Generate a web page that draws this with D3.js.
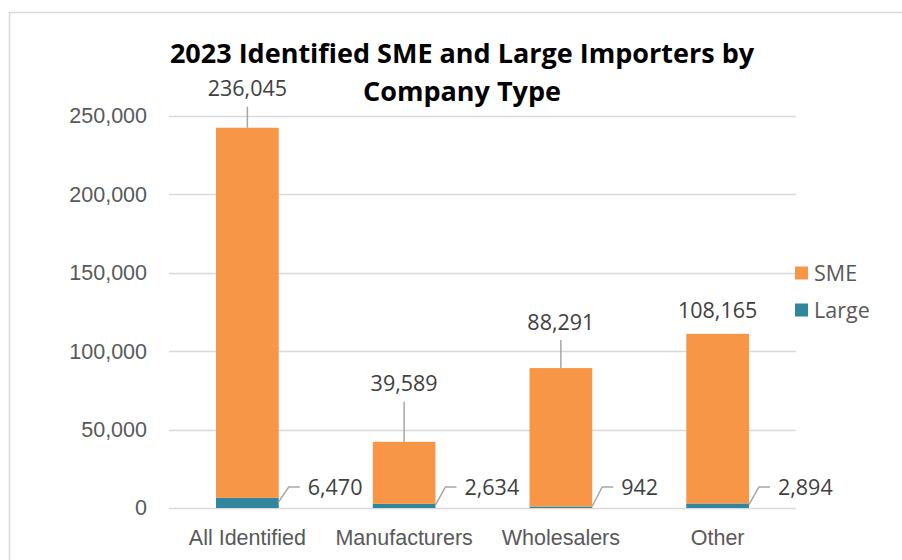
<!DOCTYPE html>
<html>
<head>
<meta charset="utf-8">
<script src="https://cdn.jsdelivr.net/npm/d3@7"></script>
<style>
  body { margin: 0; background: #fff; }
  svg { display: block; font-family: "Open Sans", "Noto Sans", sans-serif; }
</style>
</head>
<body>
<svg width="902" height="560"></svg>
<script>
// data
const categories = ["All Identified", "Manufacturers", "Wholesalers", "Other"];
const sme = [236045, 39589, 88291, 108165];
const large = [6470, 2634, 942, 2894];
const yTicks = [0, 50000, 100000, 150000, 200000, 250000];
const seriesNames = ["SME", "Large"];
const colors = { SME: "#F79646", Large: "#31859C" };

// how far each SME label sits above its bar (dragged by hand in the original)
const smeLabelLift = [39, 58, 46, 23];

let svg = d3.select("svg"),
	width = +svg.attr("width"),
	height = +svg.attr("height");

const margin = { top: 116, right: 106, bottom: 52, left: 169 };
const fontSize = "21.5px";

// chart frame
svg.append("rect")
	.attr("x", 9.5).attr("y", 12.5)
	.attr("width", 905).attr("height", 560)
	.attr("fill", "none")
	.attr("stroke", "#D9D9D9")
	.attr("stroke-width", 1.5);

let x = d3.scaleBand()
	.domain(categories)
	.range([margin.left, width - margin.right])
	.paddingInner(0.6)
	.paddingOuter(0.3);

let y = d3.scaleLinear()
	.domain([0, 250000])
	.range([height - margin.bottom, margin.top]);

const rows = categories.map((c, i) => ({ cat: c, SME: sme[i], Large: large[i], i: i }));
const stack = d3.stack().keys(["Large", "SME"])(rows);

// gridlines
svg.append("g")
	.selectAll("line")
	.data(yTicks)
	.enter().append("line")
	.attr("x1", margin.left)
	.attr("x2", width - margin.right)
	.attr("y1", d => Math.round(y(d)) + 0.5)
	.attr("y2", d => Math.round(y(d)) + 0.5)
	.attr("stroke", "#D9D9D9")
	.attr("stroke-width", 1.5);

// y axis labels
let yAxis = svg.append("g")
	.attr("transform", "translate(" + (margin.left - 22) + ",0)")
	.call(d3.axisLeft(y).tickValues(yTicks).tickFormat(d3.format(",")).tickSize(0).tickPadding(0));
yAxis.select(".domain").remove();
yAxis.selectAll("text")
	.attr("fill", "#595959")
	.style("font-size", fontSize);

// x axis labels
let xAxis = svg.append("g")
	.attr("transform", "translate(0," + (height - margin.bottom) + ")")
	.call(d3.axisBottom(x).tickSize(0).tickPadding(22));
xAxis.select(".domain").remove();
xAxis.selectAll("text")
	.attr("fill", "#595959")
	.style("font-size", fontSize);

// bars
svg.append("g")
	.selectAll("g")
	.data(stack)
	.enter().append("g")
	.attr("fill", d => colors[d.key])
	.selectAll("rect")
	.data(d => d)
	.enter().append("rect")
	.attr("x", d => x(d.data.cat))
	.attr("width", x.bandwidth())
	.attr("y", d => y(d[1]))
	.attr("height", d => y(d[0]) - y(d[1]));

// SME labels above bars
const smeLabels = svg.append("g").selectAll("g")
	.data(rows)
	.enter().append("g");

smeLabels.append("line")
	.filter(d => smeLabelLift[d.i] > 30)
	.attr("x1", d => x(d.cat) + x.bandwidth() / 2)
	.attr("x2", d => x(d.cat) + x.bandwidth() / 2)
	.attr("y1", d => y(d.SME + d.Large))
	.attr("y2", d => y(d.SME + d.Large) - smeLabelLift[d.i] + 18)
	.attr("stroke", "#A6A6A6")
	.attr("stroke-width", 1.5);

smeLabels.append("text")
	.attr("x", d => x(d.cat) + x.bandwidth() / 2)
	.attr("y", d => y(d.SME + d.Large) - smeLabelLift[d.i])
	.attr("dy", "0.35em")
	.attr("text-anchor", "middle")
	.attr("fill", "#404040")
	.style("font-size", fontSize)
	.text(d => d3.format(",")(d.SME));

// Large labels right of bars
const largeLabelY = y(0) - 21;
const largeLabels = svg.append("g").selectAll("g")
	.data(rows)
	.enter().append("g");

largeLabels.append("polyline")
	.attr("points", d => {
		let bx = x(d.cat) + x.bandwidth();
		return [[bx, y(d.Large / 2) - 1], [bx + 10, largeLabelY], [bx + 21, largeLabelY]].join(" ");
	})
	.attr("fill", "none")
	.attr("stroke", "#A6A6A6")
	.attr("stroke-width", 1.5);

largeLabels.append("text")
	.attr("x", d => x(d.cat) + x.bandwidth() + 29)
	.attr("y", largeLabelY)
	.attr("dy", "0.35em")
	.attr("fill", "#404040")
	.style("font-size", fontSize)
	.text(d => d3.format(",")(d.Large));

// title
const title = svg.append("text")
	.attr("x", 462)
	.attr("y", 63)
	.attr("text-anchor", "middle")
	.attr("fill", "#000")
	.style("font-size", "27px")
	.style("font-weight", "bold");
title.append("tspan").attr("x", 462).text("2023 Identified SME and Large Importers by");
title.append("tspan").attr("x", 462).attr("dy", 38).text("Company Type");

// legend
const legend = svg.append("g").selectAll("g")
	.data(seriesNames)
	.enter().append("g")
	.attr("transform", (d, i) => "translate(795," + (273 + i * 37) + ")");

legend.append("rect")
	.attr("y", -6.5)
	.attr("width", 13)
	.attr("height", 13)
	.attr("fill", d => colors[d]);

legend.append("text")
	.attr("x", 19)
	.attr("dy", "0.35em")
	.attr("fill", "#595959")
	.style("font-size", fontSize)
	.text(d => d);
</script>
</body>
</html>
